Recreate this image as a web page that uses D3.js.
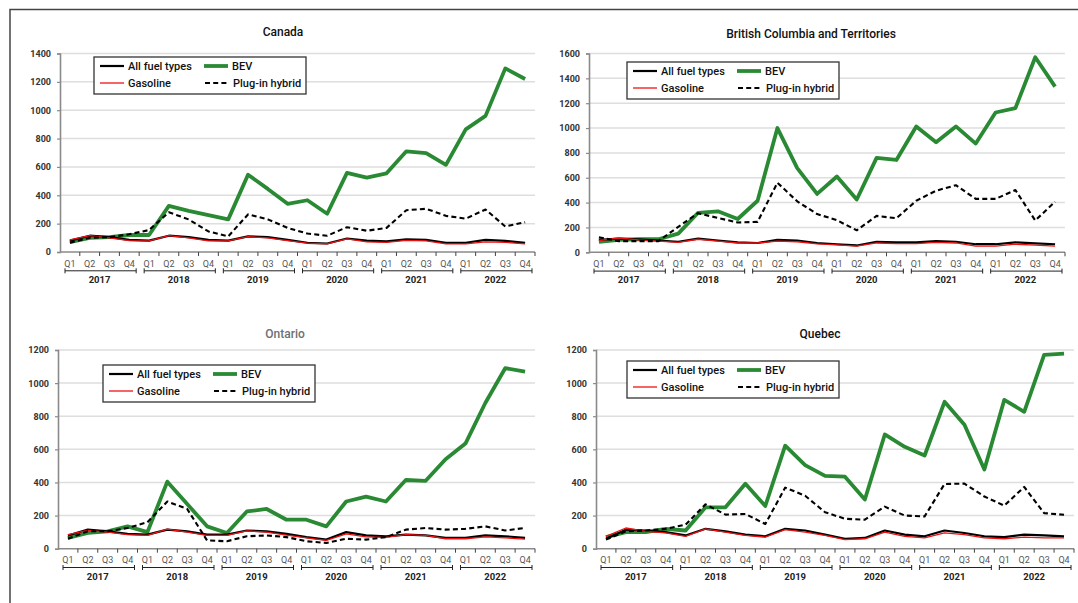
<!DOCTYPE html>
<html>
<head>
<meta charset="utf-8">
<script src="https://cdn.jsdelivr.net/npm/d3@7/dist/d3.min.js"></script>
<style>
  html, body { margin: 0; padding: 0; background: #fff; }
  svg { display: block; font-family: Roboto, "Liberation Sans", sans-serif; }
</style>
</head>
<body>
<svg id="chart" width="1078" height="603"></svg>
<script>
// Quarterly index series, 2017 Q1 to 2022 Q4
const years = ["2017", "2018", "2019", "2020", "2021", "2022"];
const quarters = ["Q1", "Q2", "Q3", "Q4"];
const seriesNames = ["All fuel types", "Gasoline", "BEV", "Plug-in hybrid"];

// Canada
const canadaAll  = [80,115,105,85, 80,115,105,85, 80,110,105,85, 65,60,95,80, 75,90,85,65, 65,85,78,65];
const canadaGas  = [85,115,100,80, 78,115,100,78, 78,108,100,80, 62,58,92,72, 68,82,78,58, 58,72,68,58];
const canadaBEV  = [70,100,105,120, 120,325,290,260, 230,545,445,340, 365,270,558,525, 555,710,698,615, 865,960,1295,1220];
const canadaPHEV = [65,100,105,125, 155,280,230,145, 110,265,230,170, 130,115,175,150, 170,295,305,255, 235,300,180,210];

// British Columbia and Territories
const bcAll  = [100,110,105,95, 85,110,95,80, 75,100,95,75, 65,55,85,80, 80,90,85,65, 65,80,72,65];
const bcGas  = [95,115,100,90, 80,105,90,75, 75,90,85,68, 60,50,75,70, 70,80,75,50, 50,65,58,50];
const bcBEV  = [85,100,105,105, 150,318,330,268, 415,1000,678,470, 610,425,760,743, 1013,885,1013,875, 1125,1160,1570,1333];
const bcPHEV = [120,90,90,90, 205,315,276,240, 245,560,410,308, 258,177,293,274, 415,496,540,430, 430,501,256,407];

// Ontario
const onAll  = [80,115,105,90, 85,115,105,85, 85,110,105,90, 70,55,100,80, 75,85,80,65, 65,80,75,65];
const onGas  = [85,110,100,85, 80,118,100,80, 80,108,100,82, 65,50,90,72, 68,85,80,60, 60,72,65,58];
const onBEV  = [65,95,105,135, 100,405,270,135, 95,225,240,175, 175,135,285,315, 285,415,410,540, 635,880,1090,1070];
const onPHEV = [60,105,105,125, 160,285,240,50, 45,75,80,70, 45,35,60,55, 70,115,125,115, 120,135,110,125];

// Quebec
const qcAll  = [60,115,110,100, 80,120,105,85, 75,120,110,85, 60,65,110,85, 75,110,95,75, 70,85,80,75];
const qcGas  = [75,125,105,95, 75,120,100,80, 70,115,100,80, 55,60,100,75, 65,95,85,65, 60,70,65,65];
const qcBEV  = [70,100,100,120, 110,250,250,392, 258,622,505,440, 435,297,690,615, 563,887,748,478, 899,827,1170,1178];
const qcPHEV = [55,105,110,120, 145,268,206,210, 149,369,320,220, 181,175,254,200, 195,391,393,315, 260,373,215,205];

const categories = [];
years.forEach(y => quarters.forEach(q => categories.push({ year: y, quarter: q, key: y + q })));

const seriesStyle = {
  "All fuel types": { color: "#000", width: 2.2, dash: null },
  "Gasoline":       { color: "#ee1111", width: 1.3, dash: null },
  "BEV":            { color: "#2a8a34", width: 3.8, dash: null },
  "Plug-in hybrid": { color: "#000", width: 2.1, dash: "5,3.2" }
};

const panels = [
  { title: "Canada", titleColor: "#111", tx: 283, ty: 36,
    x0: 60, x1: 535, yTop: 53.5, yBot: 252, max: 1400,
    legend: { x: 94, y: 57 },
    data: { "All fuel types": canadaAll, "Gasoline": canadaGas, "BEV": canadaBEV, "Plug-in hybrid": canadaPHEV } },
  { title: "British Columbia and Territories", titleColor: "#111", tx: 811, ty: 38,
    x0: 589, x1: 1065, yTop: 53.5, yBot: 252.3, max: 1600,
    legend: { x: 627, y: 62 },
    data: { "All fuel types": bcAll, "Gasoline": bcGas, "BEV": bcBEV, "Plug-in hybrid": bcPHEV } },
  { title: "Ontario", titleColor: "#6f6f6f", tx: 285, ty: 338,
    x0: 58, x1: 535, yTop: 350, yBot: 548.7, max: 1200,
    legend: { x: 103, y: 365 },
    data: { "All fuel types": onAll, "Gasoline": onGas, "BEV": onBEV, "Plug-in hybrid": onPHEV } },
  { title: "Quebec", titleColor: "#111", tx: 820, ty: 338,
    x0: 596, x1: 1074, yTop: 350, yBot: 548.7, max: 1200,
    legend: { x: 627, y: 361 },
    data: { "All fuel types": qcAll, "Gasoline": qcGas, "BEV": qcBEV, "Plug-in hybrid": qcPHEV } }
];

const svg = d3.select("#chart");

// outer frame (top and left edges)
svg.append("path")
  .attr("d", "M10,603 L10,9.5 L1078,9.5")
  .attr("fill", "none").attr("stroke", "#444").attr("stroke-width", 1.5);

panels.forEach(p => {
  const g = svg.append("g");

  const x = d3.scaleBand().domain(categories.map(c => c.key)).range([p.x0, p.x1]).padding(0);
  const y = d3.scaleLinear().domain([0, p.max]).range([p.yBot, p.yTop]);
  const yTicks = d3.range(0, p.max + 1, 200);

  // title
  g.append("text")
    .attr("x", p.tx).attr("y", p.ty)
    .attr("text-anchor", "middle")
    .attr("font-size", 12).attr("font-weight", 500)
    .attr("fill", p.titleColor)
    .text(p.title);

  // gridlines
  g.append("g").selectAll("line")
    .data(yTicks.filter(t => t > 0))
    .join("line")
    .attr("x1", p.x0).attr("x2", p.x1)
    .attr("y1", d => y(d)).attr("y2", d => y(d))
    .attr("stroke", "#dedede").attr("stroke-width", 1.5);

  // y axis
  const yAxis = g.append("g")
    .attr("transform", `translate(${p.x0},0)`)
    .call(d3.axisLeft(y).tickValues(yTicks).tickSize(3).tickPadding(6).tickFormat(d3.format("d")));
  yAxis.select(".domain").attr("stroke", "#8a8a8a").attr("stroke-width", 1.6);
  yAxis.selectAll(".tick line").attr("stroke", "#8a8a8a").attr("stroke-width", 1.2);
  yAxis.selectAll(".tick text")
    .attr("font-family", "Roboto, sans-serif")
    .attr("font-size", 9).attr("font-weight", 700).attr("fill", "#333");

  // x axis with ticks between quarters
  const xAxis = g.append("g").attr("transform", `translate(0,${p.yBot})`);
  xAxis.append("line")
    .attr("x1", p.x0).attr("x2", p.x1).attr("y1", 0).attr("y2", 0)
    .attr("stroke", "#8a8a8a").attr("stroke-width", 1.6);
  xAxis.selectAll("line.tk")
    .data(categories)
    .join("line").attr("class", "tk")
    .attr("x1", d => x(d.key) + x.bandwidth()).attr("x2", d => x(d.key) + x.bandwidth())
    .attr("y1", 0).attr("y2", 4)
    .attr("stroke", "#444").attr("stroke-width", 1);
  xAxis.selectAll("text.q")
    .data(categories)
    .join("text").attr("class", "q")
    .attr("x", d => x(d.key) + x.bandwidth() / 2)
    .attr("y", 14.5)
    .attr("text-anchor", "middle")
    .attr("font-size", 9).attr("fill", "#555")
    .text(d => d.quarter);

  // year brackets and labels
  years.forEach(yr => {
    const xa = x(yr + "Q1") + 5;
    const xb = x(yr + "Q4") + x.bandwidth() - 3;
    const by = 18.8;
    xAxis.append("path")
      .attr("d", `M${xa},${by - 2.5}V${by + 2.5}M${xa},${by}H${xb}M${xb},${by - 2.5}V${by + 2.5}`)
      .attr("fill", "none").attr("stroke", "#222").attr("stroke-width", 1);
    xAxis.append("text")
      .attr("x", (x(yr + "Q1") + x(yr + "Q4") + x.bandwidth()) / 2)
      .attr("y", 31)
      .attr("text-anchor", "middle")
      .attr("font-size", 9.5).attr("font-weight", 700).attr("fill", "#222")
      .text(yr);
  });

  // series lines
  const line = d3.line()
    .x((d, i) => x(categories[i].key) + x.bandwidth() / 2)
    .y(d => y(d));
  ["BEV", "All fuel types", "Gasoline", "Plug-in hybrid"].forEach(name => {
    const s = seriesStyle[name];
    g.append("path")
      .datum(p.data[name])
      .attr("d", line)
      .attr("fill", "none")
      .attr("stroke", s.color)
      .attr("stroke-width", s.width)
      .attr("stroke-linejoin", "round")
      .attr("stroke-dasharray", s.dash);
  });

  // legend
  const lg = g.append("g").attr("transform", `translate(${p.legend.x},${p.legend.y})`);
  lg.append("rect")
    .attr("x", 0).attr("y", 0).attr("width", 212).attr("height", 37)
    .attr("fill", "#fff").attr("stroke", "#333").attr("stroke-width", 1.3);
  const slots = [
    { name: "All fuel types", cx: 6, cy: 9 },
    { name: "BEV", cx: 110, cy: 9 },
    { name: "Gasoline", cx: 6, cy: 26 },
    { name: "Plug-in hybrid", cx: 111, cy: 26 }
  ];
  slots.forEach(sl => {
    const s = seriesStyle[sl.name];
    lg.append("line")
      .attr("x1", sl.cx).attr("x2", sl.cx + 24)
      .attr("y1", sl.cy).attr("y2", sl.cy)
      .attr("stroke", s.color).attr("stroke-width", s.width)
      .attr("stroke-dasharray", s.dash);
    lg.append("text")
      .attr("x", sl.cx + 28).attr("y", sl.cy + 3.8)
      .attr("font-size", 11).attr("font-weight", 500).attr("fill", "#111")
      .text(sl.name);
  });
});
</script>
</body>
</html>
